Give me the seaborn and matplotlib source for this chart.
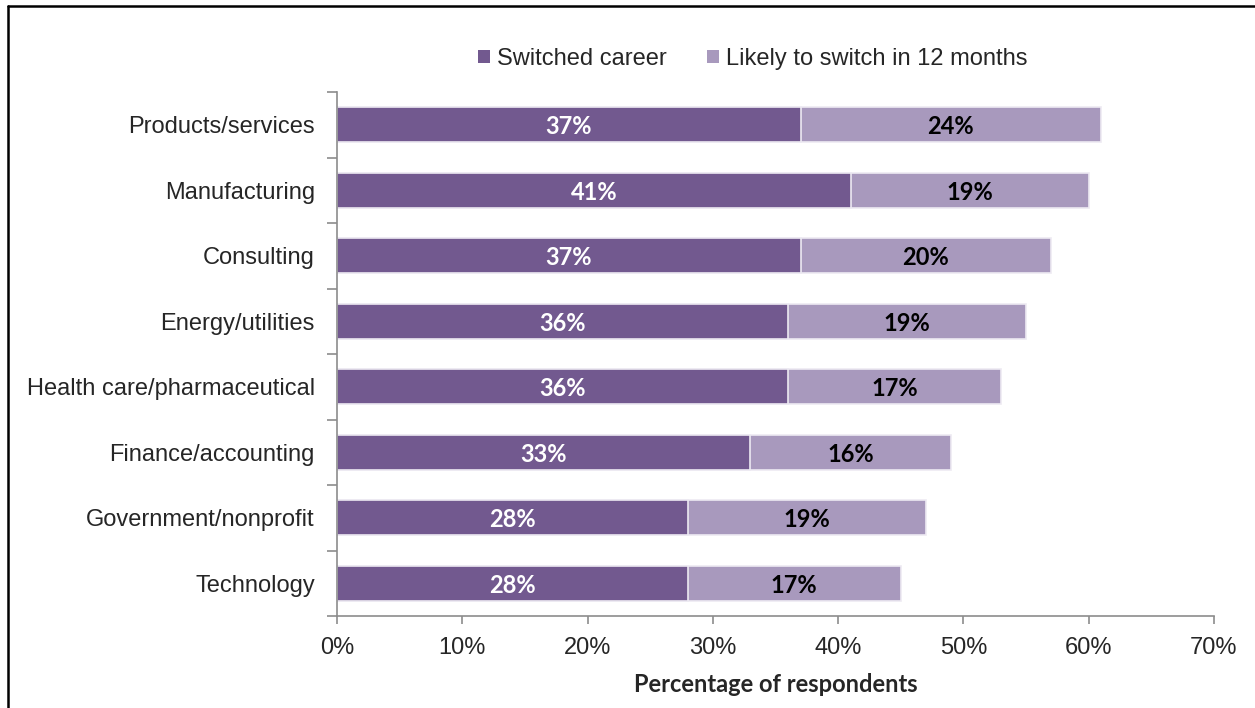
import matplotlib
matplotlib.use("Agg")
import matplotlib.pyplot as plt
import seaborn as sns
import pandas as pd
import numpy as np
from matplotlib.lines import Line2D
from matplotlib.patches import Patch
from matplotlib.ticker import FixedLocator, PercentFormatter

categories = ["Products/services", "Manufacturing", "Consulting", "Energy/utilities",
              "Health care/pharmaceutical", "Finance/accounting", "Government/nonprofit", "Technology"]
switched = [37, 41, 37, 36, 36, 33, 28, 28]
likely = [24, 19, 20, 19, 17, 16, 19, 17]
series_names = ["Switched career", "Likely to switch in 12 months"]
xticks = [0, 10, 20, 30, 40, 50, 60, 70]

dark = "#72598F"
light = "#A899BD"

sns.set_theme(style="white")
plt.rcParams["font.family"] = ["Liberation Sans", "DejaVu Sans"]

df = pd.DataFrame({"category": categories, "switched": switched, "likely": likely})
df["total"] = df["switched"] + df["likely"]

fig = plt.figure(figsize=(12.55, 7.08), dpi=100)
ax = fig.add_axes([337 / 1255, 92 / 708, (1214 - 337) / 1255, (616 - 92) / 708])

bar_w = 0.54
sns.barplot(data=df, y="category", x="total", order=categories, color=light, orient="h",
            width=bar_w, ax=ax, edgecolor="#EDEAF2", linewidth=1.2, saturation=1)
sns.barplot(data=df, y="category", x="switched", order=categories, color=dark, orient="h",
            width=bar_w, ax=ax, edgecolor="#EDEAF2", linewidth=1.2, saturation=1)

label_font = ["Lato", "DejaVu Sans"]
for i, (s, l) in enumerate(zip(switched, likely)):
    ax.text(s / 2, i + 0.03, f"{s}%", ha="center", va="center", color="white",
            fontsize=17, fontweight="bold", family=label_font)
    ax.text(s + l / 2, i + 0.03, f"{l}%", ha="center", va="center", color="black",
            fontsize=17, fontweight="bold", family=label_font)

ax.set_xlim(0, 70)
ax.set_ylim(len(categories) - 0.5, -0.5)
ax.xaxis.set_major_locator(FixedLocator(xticks))
ax.xaxis.set_major_formatter(PercentFormatter(decimals=0))
ax.set_yticks(range(len(categories)))
ax.set_yticklabels(categories)
ax.yaxis.set_minor_locator(FixedLocator(np.arange(-0.5, len(categories), 1.0)))

ax.set_ylabel("")
ax.set_xlabel("Percentage of respondents", fontsize=17, fontweight="bold", family=label_font,
              labelpad=10)

for sp in ["top", "right"]:
    ax.spines[sp].set_visible(False)
for sp in ["left", "bottom"]:
    ax.spines[sp].set_color("#8C8C8C")
    ax.spines[sp].set_linewidth(1.2)

ax.tick_params(axis="x", which="major", direction="out", length=6, width=1.2, color="#8C8C8C",
               labelsize=17, pad=9, bottom=True)
ax.tick_params(axis="y", which="major", length=0, labelsize=17, pad=16)
ax.tick_params(axis="y", which="minor", direction="out", length=7, width=1.2, color="#8C8C8C", left=True)
ax.grid(False)

handles = [Patch(facecolor=dark, edgecolor="none"), Patch(facecolor=light, edgecolor="none")]
fig.legend(handles, series_names, loc="center", bbox_to_anchor=(753 / 1255, 1 - 59 / 708),
           ncol=2, frameon=False, fontsize=17, handlelength=0.5, handleheight=0.5,
           handletextpad=0.3, columnspacing=1.7)

fig.add_artist(Line2D([8 / 1255, 8 / 1255], [0, 1 - 6 / 708], transform=fig.transFigure,
                      color="black", linewidth=1.8))
fig.add_artist(Line2D([8 / 1255, 1], [1 - 6 / 708, 1 - 6 / 708], transform=fig.transFigure,
                      color="black", linewidth=1.8))

fig.savefig("out.png", dpi=100)
